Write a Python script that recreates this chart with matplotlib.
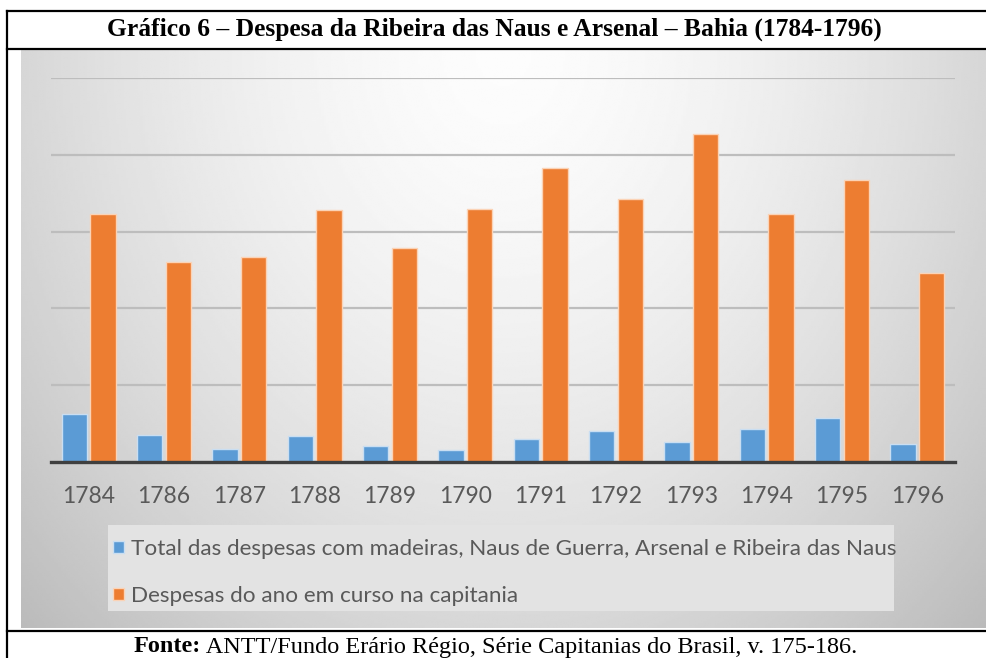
import numpy as np
import matplotlib
matplotlib.use("Agg")
import matplotlib.pyplot as plt  # noqa: E402
from matplotlib.patches import Patch, Rectangle  # noqa: E402
from matplotlib.lines import Line2D  # noqa: E402

# ---------------------------------------------------------------------------
# Data (heights, in gridline units)
# ---------------------------------------------------------------------------
years = ["1784", "1786", "1787", "1788", "1789", "1790",
         "1791", "1792", "1793", "1794", "1795", "1796"]
madeiras_naus = [0.63, 0.35, 0.17, 0.34, 0.21, 0.16,
                 0.30, 0.41, 0.26, 0.43, 0.57, 0.23]
despesas_ano = [3.23, 2.60, 2.67, 3.28, 2.79, 3.30,
                3.83, 3.42, 4.27, 3.23, 3.67, 2.46]
label_madeiras = ("Total das despesas com madeiras, Naus de Guerra, "
                  "Arsenal e Ribeira das Naus")
label_ano = "Despesas do ano em curso na capitania"
title = "Gráfico 6 – Despesa da Ribeira das Naus e Arsenal – Bahia (1784-1796)"
source_bold = "Fonte:"
source_rest = " ANTT/Fundo Erário Régio, Série Capitanias do Brasil, v. 175-186."

# ---------------------------------------------------------------------------
# Style constants
# ---------------------------------------------------------------------------
_BLUE = "#5B9BD5"
_BLUE_EDGE = "#c9def2"
_ORANGE = "#ED7D31"
_ORANGE_EDGE = "#fbd3b6"
_GRID = "#bdbdbd"
_AXIS = "#3f3f3f"
_TEXT = "#595959"
_LEGEND_BG = "#e3e3e3"

W, H = 987, 658


def fx(px):
    return px / W


def fy(py):
    return 1 - py / H


fig = plt.figure(figsize=(W / 100, H / 100), dpi=100)
fig.patch.set_facecolor("white")

# gradient panel behind the chart
panel = fig.add_axes([fx(21), fy(628), fx(986) - fx(21), fy(50) - fy(628)])
gx, gy = np.meshgrid(np.linspace(0, 1, 400), np.linspace(0, 1, 300))
d = np.sqrt(((gx - 0.5) / 0.62) ** 2 + (gy / 1.25) ** 2)
shade = 0.99 - 0.21 * np.clip(d, 0, 1.2) ** 1.6
panel.imshow(shade, cmap="gray", vmin=0, vmax=1, aspect="auto",
             extent=(0, 1, 1, 0), interpolation="bilinear")
panel.set_axis_off()

# legend background box
fig.patches.append(Rectangle((fx(108), fy(611)), fx(894) - fx(108),
                             fy(525) - fy(611), transform=fig.transFigure,
                             facecolor=_LEGEND_BG, edgecolor="none", zorder=1))

# main bar axes
ax = fig.add_axes([fx(51), fy(462), fx(955) - fx(51), fy(78) - fy(462)])
ax.patch.set_alpha(0)
x = np.arange(len(years))
width = 0.34
ax.bar(x - 0.19, madeiras_naus, width, color=_BLUE, edgecolor=_BLUE_EDGE,
       linewidth=1.0, zorder=3)
ax.bar(x + 0.19, despesas_ano, width, color=_ORANGE, edgecolor=_ORANGE_EDGE,
       linewidth=1.0, zorder=3)
ax.set_xlim(-0.5, len(years) - 0.5)
ax.set_ylim(0, 5)
ax.set_yticks(range(6))
ax.yaxis.grid(True, color=_GRID, linewidth=1.6)
ax.set_axisbelow(True)
ax.set_yticklabels([])
ax.tick_params(axis="y", length=0)
for side in ("top", "right", "left"):
    ax.spines[side].set_visible(False)
ax.spines["bottom"].set_color(_AXIS)
ax.spines["bottom"].set_linewidth(2.4)
ax.spines["bottom"].set_zorder(4)
ax.set_xticks(x)
ax.set_xticklabels(years, fontsize=16.5, color=_TEXT, family="Lato")
ax.tick_params(axis="x", length=0, pad=17)

# legend
handles = [Patch(facecolor=_BLUE, edgecolor=_BLUE_EDGE, label=label_madeiras),
           Patch(facecolor=_ORANGE, edgecolor=_ORANGE_EDGE, label=label_ano)]
leg = fig.legend(handles=handles, loc="upper left",
                 bbox_to_anchor=(fx(113), fy(539)), frameon=False,
                 prop={"family": "Lato", "size": 16.2}, labelcolor=_TEXT,
                 handlelength=0.5, handleheight=0.5, handletextpad=0.3,
                 labelspacing=1.2, borderpad=0, borderaxespad=0)
leg.set_zorder(5)

# table frame lines
lw = 1.6
for (x0, y0, x1, y1) in [(7, 11, W, 11), (7, 49, W, 49), (7, 631, W, 631),
                         (7, 11, 7, H)]:
    fig.add_artist(Line2D([fx(x0), fx(x1)], [fy(y0), fy(y1)], color="black",
                          linewidth=lw, transform=fig.transFigure))

# title
fig.text(fx(494), fy(29), title, ha="center", va="center",
         family="Liberation Serif", fontweight="bold", fontsize=18.4)

# source line: bold prefix followed by regular text, centred as a whole
t1 = fig.text(0, fy(647), source_bold, ha="left", va="center",
              family="Liberation Serif", fontweight="bold", fontsize=17.5)
t2 = fig.text(0, fy(647), source_rest, ha="left", va="center",
              family="Liberation Serif", fontsize=17.5)
fig.canvas.draw()
r = fig.canvas.get_renderer()
w1 = t1.get_window_extent(r).width
w2 = t2.get_window_extent(r).width
start = (fx(495) * W) - (w1 + w2) / 2
t1.set_x(start / W)
t2.set_x((start + w1) / W)

fig.savefig("out.png", dpi=100)
